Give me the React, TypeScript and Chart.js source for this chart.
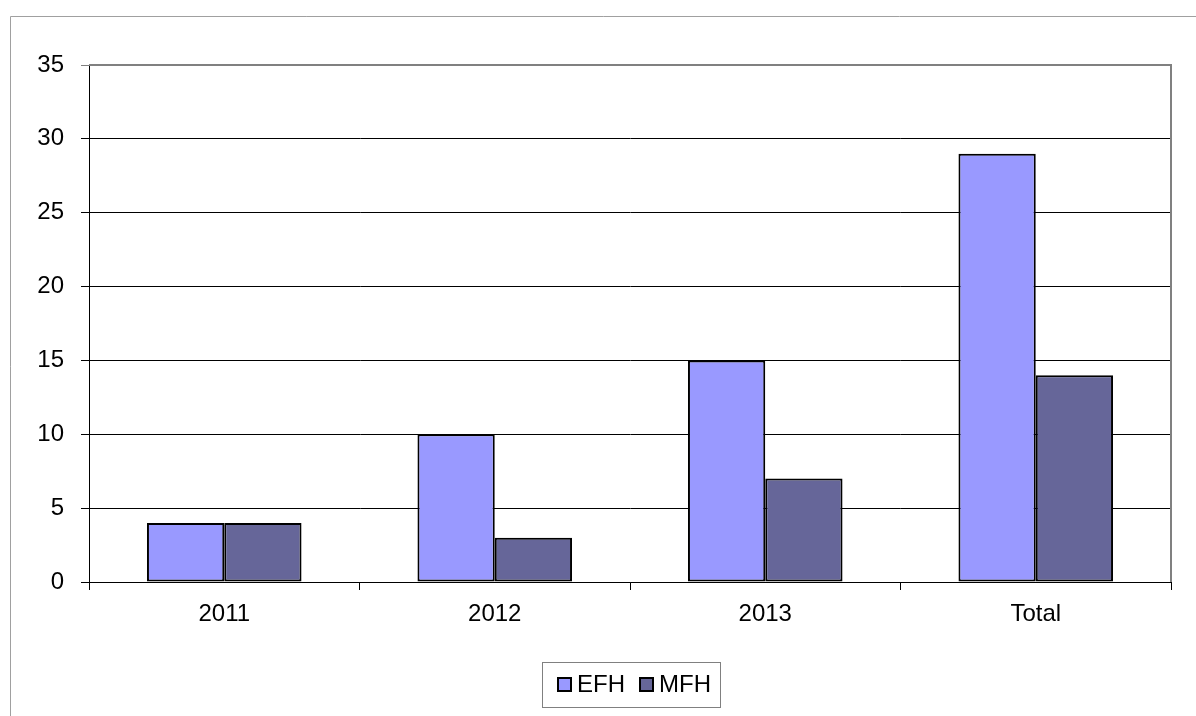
import React, { useEffect, useRef } from "react";
import { Chart, registerables } from "chart.js";

Chart.register(...registerables);

const categories = ["2011", "2012", "2013", "Total"];
const efhValues = [4, 10, 15, 29];
const mfhValues = [4, 3, 7, 14];
const seriesNames = ["EFH", "MFH"];
const seriesColors = ["#9999FF", "#666699"];
const yTicks = { min: 0, max: 35, step: 5 };

const FONT = "'Liberation Sans', Arial, sans-serif";

const framePlugin = {
  id: "frame",
  beforeDraw(chart: any) {
    const ctx = chart.ctx;
    ctx.save();
    ctx.fillStyle = "#ffffff";
    ctx.fillRect(0, 0, chart.width, chart.height);
    ctx.strokeStyle = "#a0a0a0";
    ctx.lineWidth = 1;
    ctx.beginPath();
    ctx.moveTo(10.5, chart.height);
    ctx.lineTo(10.5, 16.5);
    ctx.lineTo(chart.width, 16.5);
    ctx.stroke();
    ctx.restore();
  },
  afterDraw(chart: any) {
    const ctx = chart.ctx;
    const a = chart.chartArea;
    ctx.save();
    // plot area border (top & right)
    ctx.strokeStyle = "#808080";
    ctx.lineWidth = 2;
    ctx.beginPath();
    ctx.moveTo(a.left, a.top);
    ctx.lineTo(a.right, a.top);
    ctx.lineTo(a.right, a.bottom);
    ctx.stroke();
    // legend
    const bx = 542, by = 662, bw = 178, bh = 45;
    ctx.strokeStyle = "#808080";
    ctx.lineWidth = 1;
    ctx.strokeRect(bx + 0.5, by + 0.5, bw, bh);
    ctx.font = `24px ${FONT}`;
    ctx.textBaseline = "alphabetic";
    ctx.textAlign = "left";
    const items = [
      { mx: 558, tx: 577 },
      { mx: 640, tx: 659 },
    ];
    chart.data.datasets.forEach((ds: any, i: number) => {
      const it = items[i];
      ctx.fillStyle = ds.backgroundColor;
      ctx.fillRect(it.mx, 678, 13, 13);
      ctx.strokeStyle = "#000";
      ctx.lineWidth = 2;
      ctx.strokeRect(it.mx, 678, 13, 13);
      ctx.fillStyle = "#000";
      ctx.fillText(ds.label, it.tx, 692);
    });
    ctx.restore();
  },
};

export default function App() {
  const ref = useRef<HTMLCanvasElement>(null);
  useEffect(() => {
    if (!ref.current) return;
    const chart = new Chart(ref.current, {
      type: "bar",
      data: {
        labels: categories,
        datasets: [
          {
            label: seriesNames[0],
            data: efhValues,
            backgroundColor: seriesColors[0],
            borderColor: "#000",
            borderWidth: 2,
            borderSkipped: false,
          },
          {
            label: seriesNames[1],
            data: mfhValues,
            backgroundColor: seriesColors[1],
            borderColor: "#000",
            borderWidth: 2,
            borderSkipped: false,
          },
        ],
      },
      options: {
        responsive: false,
        animation: false,
        devicePixelRatio: 1,
        layout: { padding: { left: 0, top: 65, right: 25, bottom: 0 } },
        datasets: {
          bar: { barPercentage: 1, categoryPercentage: 2 / 3.5 },
        },
        plugins: {
          legend: { display: false },
          tooltip: { enabled: false },
        },
        scales: {
          x: {
            afterFit: (s: any) => {
              s.height = 134;
            },
            grid: {
              offset: true,
              drawOnChartArea: false,
              drawTicks: true,
              tickLength: 8,
              color: "#000",
            },
            border: { display: true, color: "#000", width: 1 },
            ticks: {
              color: "#000",
              font: { family: FONT, size: 24 },
              padding: 10,
              maxRotation: 0,
            },
          },
          y: {
            min: yTicks.min,
            max: yTicks.max,
            afterFit: (s: any) => {
              s.width = 89;
            },
            grid: {
              color: (c: any) => (c.tick && c.tick.value === yTicks.max ? "#808080" : "#000"),
              tickLength: 8,
              drawTicks: true,
            },
            border: { display: true, color: "#000", width: 1 },
            ticks: {
              stepSize: yTicks.step,
              color: "#000",
              font: { family: FONT, size: 24 },
              padding: 17,
            },
          },
        },
      },
      plugins: [framePlugin],
    });
    return () => chart.destroy();
  }, []);
  return (
    <div style={{ position: "fixed", left: 0, top: 0, width: 1196, height: 716, background: "#fff" }}>
      <canvas ref={ref} width={1196} height={716} style={{ display: "block" }} />
    </div>
  );
}
